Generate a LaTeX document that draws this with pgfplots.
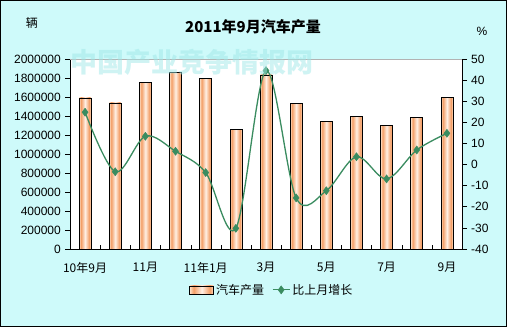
\documentclass[border=0pt]{standalone}
\usepackage{fontspec}
\usepackage{pgfplots}
\pgfplotsset{compat=1.18}
\setmainfont{Liberation Sans}
\newfontfamily\cjk{Noto Sans CJK SC}

\definecolor{bgcyan}{RGB}{206,250,250}
\definecolor{bpale}{RGB}{253,226,202}
\definecolor{borange}{RGB}{243,158,102}
\definecolor{bmid}{RGB}{255,240,228}
\definecolor{lgreen}{RGB}{58,140,96}
\definecolor{wmark}{RGB}{160,232,232}

\pgfdeclarehorizontalshading{barshade}{100bp}{%
  color(0bp)=(bpale); color(25bp)=(bpale); color(33bp)=(borange);
  color(50bp)=(bmid); color(67bp)=(borange); color(75bp)=(bpale);
  color(100bp)=(bpale)}

\pgfplotstableread{
x  prod
0  1590000
1  1537000
2  1755000
3  1860000
4  1797000
5  1260000
6  1832000
7  1534000
8  1344000
9  1397000
10 1302000
11 1386000
12 1597000
}\prodtable

\pgfplotstableread{
x  growth
0  24.8
1  -3.4
2  13.4
3  6.3
4  -3.8
5  -30.2
6  44.5
7  -15.8
8  -12.4
9  3.7
10 -6.8
11 6.9
12 14.8
}\growthtable

\begin{document}
\fontsize{12bp}{14bp}\selectfont
\begin{tikzpicture}
\fill[bgcyan] (-70bp,-78bp) rectangle (437bp,249bp);
\draw[black, line width=0.8bp] (-69.5bp,-77.5bp) rectangle (436.5bp,248.5bp);

\begin{axis}[
    at={(0,0)}, anchor=south west,
    scale only axis,
    width=392bp, height=190bp,
    xmin=-0.5, xmax=12.5,
    ymin=0, ymax=2000000,
    ytick={0,200000,...,2000000},
    scaled y ticks=false,
    yticklabel style={/pgf/number format/fixed, /pgf/number format/set thousands separator={}},
    /pgf/number format/assume math mode=true,
    axis x line*=bottom, axis y line*=left,
    axis line style={black, line width=0.6bp, -},
    axis background/.style={fill=white},
    tick align=outside,
    major tick length=5bp,
    xtick={0,2,...,12},
    xticklabels={10年9月,11月,11年1月,3月,5月,7月,9月},
    x tick label style={font=\cjk\fontsize{12bp}{14bp}\selectfont, yshift=-4bp},
    y tick label style={font=\fontsize{12bp}{14bp}\selectfont},
    major x tick style={draw=none},
    extra x ticks={0.5,1.5,...,11.5},
    extra x tick labels={},
    extra x tick style={tick align=inside, major tick length=4bp, major x tick style={draw=black}},
    ytick style={black, line width=0.6bp},
    clip=false,
]
\pgfplotsinvokeforeach{0,...,12}{
  \addplot[ybar, bar width=12bp, bar shift=0pt, draw=black, line width=0.6bp, shade, shading=barshade]
      table[x=x, y=prod, restrict expr to domain={\coordindex}{#1:#1}] {\prodtable};
}
\draw[gray!60, line width=0.6bp] (axis description cs:0,1) -- (axis description cs:1,1);
\end{axis}

\begin{axis}[
    at={(0,0)}, anchor=south west,
    scale only axis,
    width=392bp, height=190bp,
    xmin=-0.5, xmax=12.5,
    ymin=-40, ymax=50,
    ytick={-40,-30,...,50},
    axis x line=none,
    axis y line*=right,
    axis line style={black, line width=0.6bp, -},
    tick align=outside,
    major tick length=5bp,
    ytick style={black, line width=0.6bp},
    /pgf/number format/assume math mode=true,
    y tick label style={font=\fontsize{12bp}{14bp}\selectfont},
    legend columns=2,
    legend style={draw=none, fill=none, at={(axis description cs:0.515,-0.215)}, anchor=center,
        font=\cjk\fontsize{12bp}{14bp}\selectfont,
        /tikz/every even column/.append style={column sep=6bp}},
    clip=false,
]
\addlegendimage{legend image code/.code={
    \draw[draw=black, line width=0.6bp, shade, shading=barshade] (0bp,-4bp) rectangle (24bp,4bp);}}
\addlegendentry{汽车产量}
\addplot[lgreen, line width=1.3bp, smooth, tension=0.55,
    mark=diamond*, mark size=4bp, mark options={fill=lgreen, draw=lgreen, line width=0.5bp}]
    table[x=x, y=growth] {\growthtable};
\addlegendentry{比上月增长}
\end{axis}

\node[font=\cjk\bfseries\fontsize{15bp}{17bp}\selectfont] at (183bp,222bp) {2011年9月汽车产量};
\node[font=\cjk\fontsize{12bp}{14bp}\selectfont] at (-38bp,226bp) {辆};
\node[font=\fontsize{12bp}{14bp}\selectfont] at (412bp,218bp) {\%};
\node[font=\cjk\bfseries\fontsize{27bp}{29bp}\selectfont, text=wmark, opacity=0.5] at (122bp,187bp) {中国产业竞争情报网};
\end{tikzpicture}
\end{document}
